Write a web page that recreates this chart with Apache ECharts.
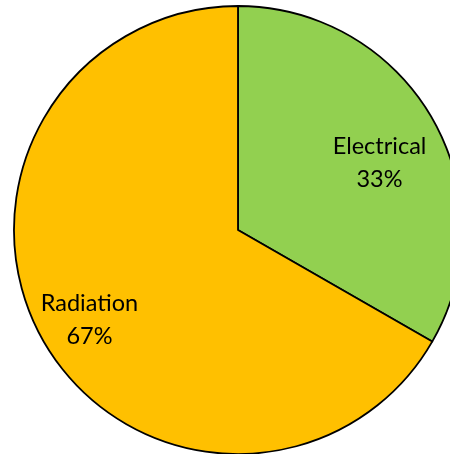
<!DOCTYPE html>
<html>
<head>
<meta charset="utf-8">
<script src="https://cdn.jsdelivr.net/npm/echarts@6/dist/echarts.min.js"></script>
<style>
html,body{margin:0;padding:0;background:#fff;}
#c{width:450px;height:454px;}
</style>
</head>
<body>
<div id="c"></div>
<script>
var categories = ['Electrical', 'Radiation'];
var values = [33.3, 66.7];
var colors = ['#92D050', '#FFC000'];
var labelShift = [[42, -9], [-49, 32]];

var chart = echarts.init(document.getElementById('c'), null, {renderer: 'canvas'});
chart.setOption({
  animation: false,
  series: [{
    type: 'pie',
    center: [238, 230],
    radius: 224,
    startAngle: 90,
    clockwise: true,
    avoidLabelOverlap: false,
    silent: true,
    itemStyle: {borderColor: '#000', borderWidth: 1.8},
    label: {
      show: true,
      position: 'inner',
      formatter: function (p) { return p.name + '\n' + Math.round(p.percent) + '%'; },
      color: '#000',
      fontFamily: 'Lato',
      fontSize: 23.5,
      lineHeight: 33,
      align: 'center'
    },
    labelLine: {show: false},
    labelLayout: function (p) {
      var s = labelShift[p.dataIndex];
      return {dx: s[0], dy: s[1]};
    },
    data: categories.map(function (n, i) {
      return {name: n, value: values[i], itemStyle: {color: colors[i]}};
    })
  }]
});
</script>
</body>
</html>
